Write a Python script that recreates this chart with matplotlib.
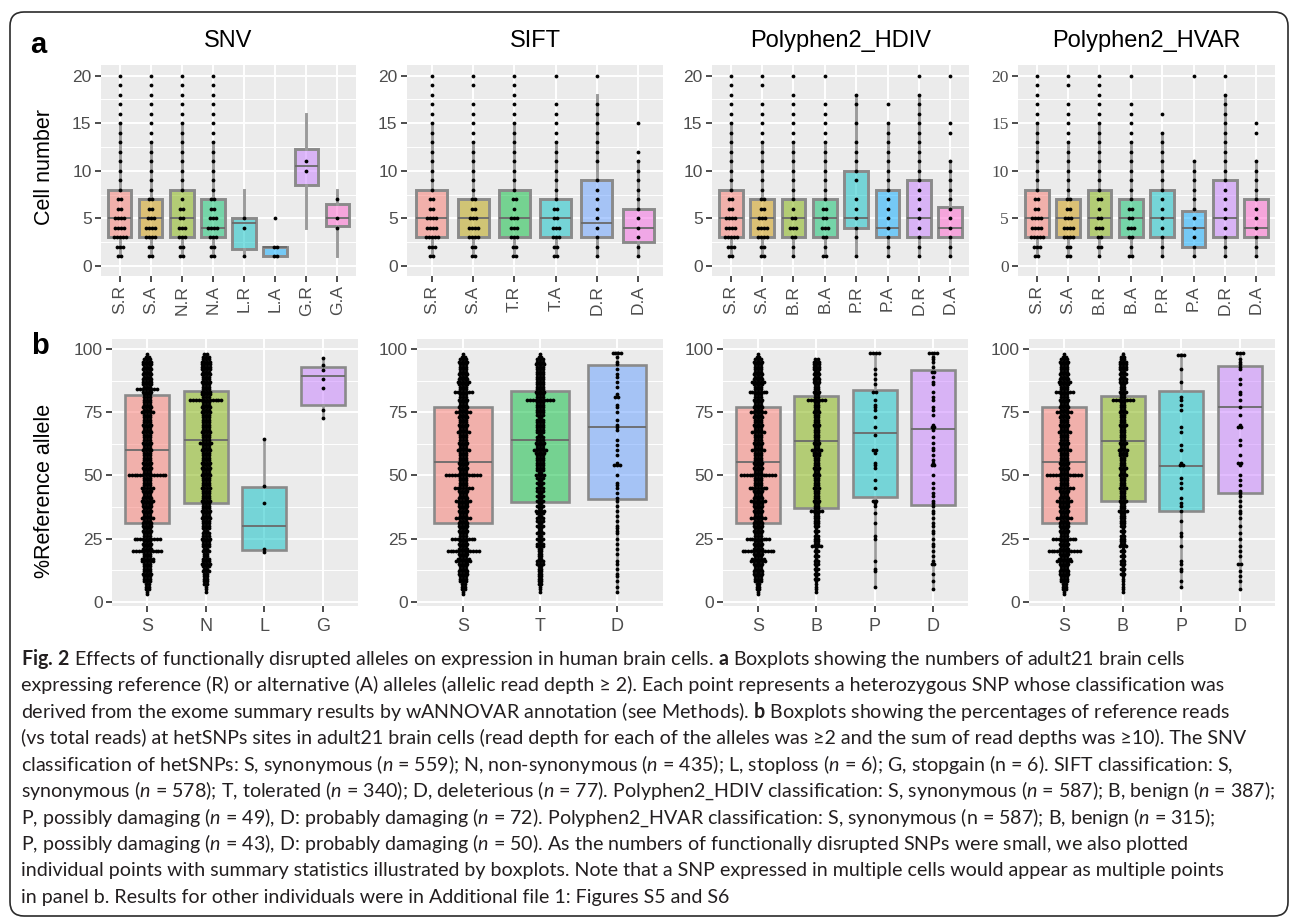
import numpy as np
import matplotlib
matplotlib.use('Agg')
import matplotlib.pyplot as plt
from matplotlib import font_manager
from matplotlib.colors import to_rgba
from matplotlib.patches import FancyBboxPatch
from matplotlib.ticker import FixedLocator
from collections import Counter

W, H, DPI = 1292, 917, 100

# ggplot hue palettes
pal8 = ['#F8766D', '#CD9600', '#7CAE00', '#00BE67', '#00BFC4', '#00A9FF', '#C77CFF', '#FF61CC']
pal6 = ['#F8766D', '#B79F00', '#00BA38', '#00BFC4', '#619CFF', '#F564E3']
pal4 = ['#F8766D', '#7CAE00', '#00BFC4', '#C77CFF']
pal3 = ['#F8766D', '#00BA38', '#619CFF']

# ---------------- panel a: cell numbers ----------------
# box stats: (q1, median, q3, whisker low, whisker high)
# dot counts: index = cell number 0..20
snv_a_labels = ['S.R', 'S.A', 'N.R', 'N.A', 'L.R', 'L.A', 'G.R', 'G.A']
snv_a_stats = [(3, 5, 8, 1, 15), (3, 5, 7, 1, 13), (3, 5, 8, 1, 15), (3, 4, 7, 1, 13),
               (1.75, 4.5, 5, 1, 8), (1, 2, 2, 1, 2), (8.5, 10.5, 12.25, 4, 16), (4.25, 5, 6.5, 1, 8)]
snv_a_counts = [
    [0, 2, 3, 5, 4, 4, 2, 2, 1, 1, 1, 1, 1, 1, 1, 1, 1, 1, 1, 1, 1],
    [0, 2, 2, 4, 4, 3, 2, 2, 1, 1, 1, 1, 1, 1, 1, 1, 1, 1, 1, 1, 1],
    [0, 2, 2, 3, 3, 2, 2, 1, 1, 1, 1, 1, 1, 1, 1, 1, 1, 1, 1, 1, 1],
    [0, 2, 2, 3, 4, 3, 2, 2, 1, 1, 1, 1, 1, 1, 1, 1, 1, 1, 1, 1, 1],
    [0, 1, 0, 0, 1, 1, 0, 0, 0, 0, 0, 0, 0, 0, 0, 0, 0, 0, 0, 0, 0],
    [0, 2, 2, 0, 0, 1, 0, 0, 0, 0, 0, 0, 0, 0, 0, 0, 0, 0, 0, 0, 0],
    [0, 0, 0, 0, 0, 0, 0, 0, 0, 0, 1, 1, 0, 0, 0, 0, 0, 0, 0, 0, 0],
    [0, 0, 0, 0, 1, 1, 0, 1, 0, 0, 0, 0, 0, 0, 0, 0, 0, 0, 0, 0, 0],
]

sift_a_labels = ['S.R', 'S.A', 'T.R', 'T.A', 'D.R', 'D.A']
sift_a_stats = [(3, 5, 8, 1, 15), (3, 5, 7, 1, 13), (3, 5, 8, 1, 15), (3, 5, 7, 1, 13),
                (3, 4.5, 9, 1, 18), (2.5, 4, 6, 1, 11)]
sift_a_counts = [
    [0, 2, 3, 5, 4, 4, 2, 2, 1, 1, 1, 1, 1, 1, 1, 1, 1, 1, 1, 1, 1],
    [0, 2, 2, 4, 4, 3, 2, 2, 1, 1, 1, 1, 1, 1, 1, 1, 1, 1, 0, 1, 1],
    [0, 2, 2, 3, 3, 3, 1, 2, 1, 1, 1, 1, 1, 1, 1, 1, 1, 1, 1, 1, 1],
    [0, 2, 2, 3, 3, 2, 2, 1, 1, 1, 1, 1, 1, 1, 1, 1, 1, 1, 0, 0, 1],
    [0, 1, 1, 1, 1, 1, 1, 1, 1, 1, 0, 1, 1, 1, 1, 1, 1, 1, 0, 0, 1],
    [0, 1, 1, 1, 1, 1, 1, 1, 1, 1, 1, 1, 1, 0, 0, 1, 0, 0, 0, 0, 0],
]

hdiv_a_labels = ['S.R', 'S.A', 'B.R', 'B.A', 'P.R', 'P.A', 'D.R', 'D.A']
hdiv_a_stats = [(3, 5, 8, 1, 15), (3, 5, 7, 1, 13), (3, 5, 7, 1, 13), (3, 5, 7, 1, 13),
                (4, 5, 10, 1, 18), (3, 4, 8, 1, 15), (3, 5, 9, 1, 18), (3, 4, 6.25, 1, 11)]
hdiv_a_counts = [
    [0, 2, 3, 5, 4, 4, 2, 2, 1, 1, 1, 1, 1, 1, 1, 1, 1, 1, 1, 1, 1],
    [0, 2, 2, 4, 4, 3, 2, 2, 1, 1, 1, 1, 1, 1, 1, 1, 1, 1, 0, 1, 1],
    [0, 1, 1, 2, 3, 2, 1, 1, 1, 1, 1, 1, 1, 1, 1, 1, 1, 1, 1, 0, 1],
    [0, 2, 1, 2, 3, 2, 2, 1, 1, 1, 1, 1, 1, 1, 1, 1, 1, 1, 0, 0, 1],
    [0, 1, 0, 1, 1, 1, 1, 1, 0, 1, 1, 1, 1, 1, 0, 1, 0, 1, 1, 0, 0],
    [0, 1, 1, 1, 1, 1, 1, 1, 1, 1, 1, 1, 1, 1, 1, 1, 0, 1, 0, 0, 0],
    [0, 1, 1, 1, 1, 1, 1, 1, 1, 1, 1, 1, 1, 1, 1, 1, 1, 1, 1, 0, 1],
    [0, 1, 1, 1, 1, 1, 1, 1, 1, 1, 1, 1, 0, 0, 1, 1, 0, 0, 0, 0, 1],
]

hvar_a_labels = ['S.R', 'S.A', 'B.R', 'B.A', 'P.R', 'P.A', 'D.R', 'D.A']
hvar_a_stats = [(3, 5, 8, 1, 15), (3, 5, 7, 1, 13), (3, 5, 8, 1, 15), (3, 5, 7, 1, 13),
                (3, 5, 8, 1, 14), (2, 4, 5.75, 1, 11), (3, 5, 9, 1, 18), (3, 4, 7, 1, 11)]
hvar_a_counts = [
    [0, 2, 3, 5, 4, 4, 2, 2, 1, 1, 1, 1, 1, 1, 1, 1, 1, 1, 1, 1, 1],
    [0, 2, 2, 4, 4, 3, 2, 2, 1, 1, 1, 1, 1, 1, 1, 1, 1, 1, 0, 1, 1],
    [0, 1, 2, 2, 3, 2, 1, 2, 1, 1, 1, 1, 1, 1, 1, 1, 1, 1, 1, 1, 1],
    [0, 2, 1, 2, 3, 2, 2, 1, 1, 1, 1, 1, 1, 1, 1, 1, 1, 1, 0, 0, 1],
    [0, 1, 1, 1, 1, 1, 1, 1, 1, 1, 1, 1, 1, 1, 1, 0, 1, 0, 0, 0, 0],
    [0, 1, 1, 1, 1, 1, 1, 1, 1, 1, 1, 1, 0, 0, 0, 0, 0, 0, 0, 0, 1],
    [0, 1, 1, 1, 1, 1, 1, 1, 1, 1, 1, 1, 1, 1, 1, 1, 1, 1, 1, 0, 1],
    [0, 1, 1, 1, 1, 1, 1, 1, 1, 1, 1, 1, 0, 0, 1, 1, 0, 0, 0, 0, 0],
]

# ---------------- panel b: % reference allele ----------------
# dense groups: dot counts per 1% bin, index = percentage 0..99
syn_b_counts = [
    0, 0, 0, 1, 1, 2, 2, 2, 3, 3,
    3, 4, 4, 3, 3, 4, 6, 5, 3, 4,
    12, 4, 3, 4, 3, 9, 3, 3, 4, 3,
    4, 4, 3, 6, 3, 3, 4, 3, 4, 4,
    6, 4, 3, 3, 4, 7, 3, 3, 3, 3,
    13, 3, 3, 4, 3, 4, 3, 3, 3, 3,
    5, 3, 3, 4, 3, 3, 3, 5, 3, 3,
    4, 3, 3, 4, 3, 6, 3, 4, 3, 3,
    4, 3, 3, 7, 3, 3, 4, 5, 4, 3,
    4, 3, 3, 3, 3, 4, 3, 2, 1, 0]
snv_s_counts = [
    0, 0, 0, 1, 1, 2, 2, 2, 3, 3,
    3, 4, 3, 3, 3, 3, 5, 5, 3, 3,
    11, 4, 3, 4, 3, 10, 3, 3, 4, 3,
    4, 4, 3, 5, 3, 3, 4, 3, 4, 4,
    5, 4, 3, 3, 4, 5, 3, 3, 3, 3,
    14, 3, 3, 4, 3, 4, 3, 3, 3, 3,
    4, 3, 3, 4, 3, 3, 3, 4, 3, 3,
    4, 3, 3, 3, 3, 5, 3, 4, 3, 3,
    3, 3, 3, 4, 8, 3, 4, 4, 4, 3,
    4, 3, 4, 3, 4, 4, 3, 2, 1, 0]
snv_n_counts = [
    0, 0, 0, 0, 1, 1, 1, 2, 2, 2,
    2, 2, 3, 2, 3, 4, 3, 3, 2, 2,
    3, 2, 3, 3, 3, 4, 3, 3, 2, 3,
    3, 3, 3, 4, 3, 3, 4, 3, 3, 3,
    4, 3, 3, 3, 3, 4, 3, 3, 3, 3,
    4, 3, 3, 4, 3, 4, 3, 3, 3, 3,
    4, 3, 3, 5, 3, 3, 3, 4, 3, 3,
    3, 3, 3, 3, 3, 4, 3, 4, 3, 3,
    12, 3, 4, 4, 3, 3, 3, 4, 3, 3,
    4, 3, 4, 4, 4, 4, 3, 3, 2, 0]
sift_t_counts = [
    0, 0, 0, 0, 1, 1, 1, 2, 2, 2,
    2, 2, 2, 2, 2, 3, 3, 2, 2, 2,
    2, 2, 3, 3, 2, 3, 2, 3, 2, 2,
    3, 2, 3, 3, 2, 3, 4, 2, 3, 2,
    3, 2, 3, 2, 3, 3, 2, 3, 2, 3,
    4, 2, 3, 3, 3, 3, 3, 3, 3, 4,
    5, 3, 3, 4, 3, 3, 2, 3, 3, 3,
    3, 3, 3, 2, 3, 3, 3, 3, 3, 3,
    10, 3, 3, 4, 3, 3, 3, 3, 3, 3,
    3, 3, 3, 3, 4, 3, 3, 2, 1, 0]
hdiv_b_counts = [
    0, 0, 0, 0, 1, 1, 1, 1, 1, 2,
    1, 2, 1, 2, 1, 2, 2, 1, 2, 1,
    2, 1, 4, 2, 2, 2, 2, 1, 2, 1,
    2, 2, 2, 2, 2, 2, 5, 2, 2, 2,
    3, 2, 2, 2, 2, 3, 2, 2, 2, 2,
    3, 2, 2, 3, 2, 2, 2, 2, 3, 3,
    4, 2, 2, 3, 2, 2, 2, 2, 2, 2,
    3, 2, 2, 2, 2, 3, 2, 2, 2, 2,
    7, 2, 2, 3, 2, 2, 2, 3, 3, 2,
    3, 2, 3, 3, 3, 3, 2, 0, 0, 0]
hvar_b_counts = [
    0, 0, 0, 0, 1, 1, 1, 1, 1, 1,
    1, 2, 1, 2, 1, 2, 2, 1, 2, 1,
    2, 1, 3, 2, 2, 2, 2, 1, 2, 1,
    2, 2, 2, 2, 2, 2, 4, 2, 2, 2,
    3, 2, 2, 2, 2, 3, 2, 2, 2, 2,
    3, 2, 2, 3, 2, 2, 2, 2, 3, 3,
    4, 2, 2, 3, 2, 2, 2, 2, 2, 2,
    3, 2, 2, 2, 2, 3, 2, 2, 2, 2,
    8, 2, 2, 3, 2, 2, 2, 3, 3, 2,
    3, 2, 3, 3, 3, 3, 2, 2, 1, 0]

# sparse groups: individual values
snv_l_points = [19.8, 20.8, 39.2, 45.6, 64.5]
snv_g_points = [72.7, 76, 84.5, 88.1, 91.5, 93.8, 96.4]
sift_d_points = [4, 6, 8, 10, 11, 13, 15, 16, 19, 21, 23, 25, 27, 28, 29, 30, 32, 34, 36, 38,
                 40, 41, 43, 45, 46, 47, 50, 54, 54, 54, 55, 58, 60, 62, 64, 68, 69, 70, 72,
                 75, 77, 78, 81, 81, 82, 85, 87, 89, 90, 92, 94, 95, 97, 98.5, 98.5, 98.5, 98.5]
hdiv_p_points = [6, 12, 13, 16, 25, 26, 31, 35, 38, 39, 40, 40, 45, 48, 53, 54, 55, 59, 60, 60,
                 66, 69, 73, 76, 77, 78, 80, 83, 83, 86, 88, 90, 92, 98.5, 98.5, 98.5, 98.5]
hdiv_d_points = [5, 8, 11, 15, 15, 16, 18, 20, 22, 23, 25, 27, 28, 30, 31, 33, 35, 36, 38, 39,
                 40, 42, 43, 45, 47, 50, 54, 54, 55, 56, 58, 60, 61, 63, 65, 68, 69, 69, 70,
                 74, 76, 77, 80, 81, 83, 86, 87, 89, 91, 91, 93, 95, 96, 97, 98.5, 98.5, 98.5, 98.5]
hvar_p_points = [6, 8, 12, 13, 15, 16, 22, 26, 27, 32, 36, 38, 39, 41, 45, 47, 49, 54, 54, 55,
                 60, 62, 67, 69, 76, 78, 80, 81, 87, 92, 97.5, 97.5, 97.5]
hvar_d_points = [5, 8, 10, 12, 15, 15, 18, 20, 22, 25, 27, 30, 33, 35, 36, 38, 40, 42, 43, 44,
                 46, 48, 50, 54, 55, 55, 58, 62, 64, 69, 69, 70, 74, 77, 80, 82, 83, 86, 88,
                 92, 93, 94, 95, 96, 98.5, 98.5, 98.5]

snv_b_labels = ['S', 'N', 'L', 'G']
snv_b_stats = [(31.3, 60, 81.9, 3, 98), (39.2, 63.8, 83.5, 4, 98),
               (20.5, 30, 45.2, 20, 64.5), (77.9, 89.5, 92.7, 72.7, 96.4)]
sift_b_labels = ['S', 'T', 'D']
sift_b_stats = [(31, 55.2, 77, 3, 98), (39.6, 63.8, 83.5, 4, 98), (40.7, 69.2, 93.8, 4, 99)]
hdiv_b_labels = ['S', 'B', 'P', 'D']
hdiv_b_stats = [(31, 55.2, 77, 3, 98), (37, 63.7, 81.6, 4, 96),
                (41.6, 66.6, 83.9, 6, 98.5), (38.3, 68.4, 91.8, 5, 98.5)]
hvar_b_labels = ['S', 'B', 'P', 'D']
hvar_b_stats = [(31, 55.2, 77, 3, 98), (40, 63.7, 81.6, 4, 98.5),
                (35.7, 53.8, 83.2, 6, 98), (43.2, 76.9, 93.1, 5, 98.5)]

titles = ['SNV', 'SIFT', 'Polyphen2_HDIV', 'Polyphen2_HVAR']

caption_lines = [
    r"$\mathbf{Fig.\,2}$ Effects of functionally disrupted alleles on expression in human brain cells. $\mathbf{a}$ Boxplots showing the numbers of adult21 brain cells",
    "expressing reference (R) or alternative (A) alleles (allelic read depth \u2265 2). Each point represents a heterozygous SNP whose classification was",
    r"derived from the exome summary results by wANNOVAR annotation (see Methods). $\mathbf{b}$ Boxplots showing the percentages of reference reads",
    "(vs total reads) at hetSNPs sites in adult21 brain cells (read depth for each of the alleles was \u22652 and the sum of read depths was \u226510). The SNV",
    r"classification of hetSNPs: S, synonymous ($\mathit{n}$ = 559); N, non-synonymous ($\mathit{n}$ = 435); L, stoploss ($\mathit{n}$ = 6); G, stopgain (n = 6). SIFT classification: S,",
    r"synonymous ($\mathit{n}$ = 578); T, tolerated ($\mathit{n}$ = 340); D, deleterious ($\mathit{n}$ = 77). Polyphen2_HDIV classification: S, synonymous ($\mathit{n}$ = 587); B, benign ($\mathit{n}$ = 387);",
    r"P, possibly damaging ($\mathit{n}$ = 49), D: probably damaging ($\mathit{n}$ = 72). Polyphen2_HVAR classification: S, synonymous (n = 587); B, benign ($\mathit{n}$ = 315);",
    r"P, possibly damaging ($\mathit{n}$ = 43), D: probably damaging ($\mathit{n}$ = 50). As the numbers of functionally disrupted SNPs were small, we also plotted",
    "individual points with summary statistics illustrated by boxplots. Note that a SNP expressed in multiple cells would appear as multiple points",
    "in panel b. Results for other individuals were in Additional file 1: Figures S5 and S6",
]


def expand(counts):
    return list(np.repeat(np.arange(len(counts)), counts))


snv_b_points = [expand(snv_s_counts), expand(snv_n_counts), snv_l_points, snv_g_points]
sift_b_points = [expand(syn_b_counts), expand(sift_t_counts), sift_d_points]
hdiv_b_points = [expand(syn_b_counts), expand(hdiv_b_counts), hdiv_p_points, hdiv_d_points]
hvar_b_points = [expand(syn_b_counts), expand(hvar_b_counts), hvar_p_points, hvar_d_points]

# ---------------- fonts ----------------
names = {f.name for f in font_manager.fontManager.ttflist}
sans = 'Liberation Sans' if 'Liberation Sans' in names else 'DejaVu Sans'
cap_font = 'Liberation Sans Narrow' if 'Liberation Sans Narrow' in names else (
    'Lato' if 'Lato' in names else sans)
plt.rcParams['font.family'] = [sans, 'DejaVu Sans']
plt.rcParams['mathtext.fontset'] = 'custom'
plt.rcParams['mathtext.rm'] = cap_font
plt.rcParams['mathtext.it'] = cap_font + ':italic'
plt.rcParams['mathtext.bf'] = cap_font + ':bold'

fig = plt.figure(figsize=(W / DPI, H / DPI), dpi=DPI)


def px_axes(l, r, t, b):
    return fig.add_axes([l / W, 1 - b / H, (r - l) / W, (b - t) / H])


def draw_panel(ax, labels, stats, points, colors, ylim, yticks, yminor,
               width_px, dot_px, dot_s, box_lw, rot):
    n = len(labels)
    xs = np.arange(1, n + 1)
    ax.set_facecolor('#EBEBEB')
    ax.set_xlim(0.4, n + 0.6)
    ax.set_ylim(*ylim)
    ax.set_axisbelow(True)
    ax.yaxis.set_major_locator(FixedLocator(yticks))
    ax.yaxis.set_minor_locator(FixedLocator(yminor))
    ax.grid(which='major', color='white', lw=1.4)
    ax.grid(which='minor', axis='y', color='white', lw=0.7)
    for s in ax.spines.values():
        s.set_visible(False)

    bstats = [dict(q1=s[0], med=s[1], q3=s[2], whislo=s[3], whishi=s[4], fliers=[]) for s in stats]
    res = ax.bxp(bstats, positions=xs, widths=0.75, patch_artist=True, showcaps=False,
                 showfliers=False, manage_ticks=False, zorder=2,
                 boxprops=dict(edgecolor='#8a8a8a', linewidth=box_lw),
                 whiskerprops=dict(color='#9a9a9a', linewidth=box_lw),
                 medianprops=dict(color='#6a6a6a', linewidth=1.3))
    for patch, c in zip(res['boxes'], colors):
        patch.set_facecolor(to_rgba(c, 0.5))

    # centred dot stacks
    d = dot_px * (n + 0.2) / width_px
    px, py = [], []
    for x, vals in zip(xs, points):
        for v, c in Counter(vals).items():
            offs = (np.arange(c) - (c - 1) / 2) * d
            px.extend(x + offs)
            py.extend([v] * c)
    ax.scatter(px, py, s=dot_s, c='black', linewidths=0, zorder=3)

    ax.set_xticks(xs)
    ax.set_xticklabels(labels, rotation=rot)
    ax.tick_params(which='major', length=4.3, width=1.4, color='#4D4D4D',
                   labelcolor='#4D4D4D', labelsize=12.5, pad=2.5)
    ax.tick_params(which='minor', length=0)


# panel a
a_px = [(101, 356), (407, 663), (712, 969), (1018, 1275)]
a_sets = [(snv_a_labels, snv_a_stats, snv_a_counts, pal8),
          (sift_a_labels, sift_a_stats, sift_a_counts, pal6),
          (hdiv_a_labels, hdiv_a_stats, hdiv_a_counts, pal8),
          (hvar_a_labels, hvar_a_stats, hvar_a_counts, pal8)]
for i, ((l, r), (labels, stats, counts, pal)) in enumerate(zip(a_px, a_sets)):
    ax = px_axes(l, r, 65, 276)
    pts = [expand(c) for c in counts]
    draw_panel(ax, labels, stats, pts, pal, (-1.05, 21.12), [0, 5, 10, 15, 20],
               [2.5, 7.5, 12.5, 17.5], r - l, 3.0, 7.5, 2.1, 90)
    if i == 3:
        for t in ax.get_yticklabels():
            t.set_family('Liberation Serif')
    fig.text((l + r) / 2 / W, 1 - 47 / H, titles[i], fontsize=17, ha='center',
             va='baseline', color='black', family=sans)

# panel b
b_px = [(112, 358), (417, 663), (723, 968), (1029, 1275)]
b_sets = [(snv_b_labels, snv_b_stats, snv_b_points, pal4),
          (sift_b_labels, sift_b_stats, sift_b_points, pal3),
          (hdiv_b_labels, hdiv_b_stats, hdiv_b_points, pal4),
          (hvar_b_labels, hvar_b_stats, hvar_b_points, pal4)]
for (l, r), (labels, stats, pts, pal) in zip(b_px, b_sets):
    ax = px_axes(l, r, 339, 606)
    draw_panel(ax, labels, stats, pts, pal, (-1.7, 103.96), [0, 25, 50, 75, 100],
               [12.5, 37.5, 62.5, 87.5], r - l, 2.8, 7.5, 1.9, 0)
    ax.tick_params(axis='x', labelsize=13, pad=4)

# panel letters and axis titles
fig.text(30 / W, 1 - 53 / H, 'a', fontsize=21, fontweight='bold', family=sans)
fig.text(31 / W, 1 - 354 / H, 'b', fontsize=21, fontweight='bold', family=sans)
fig.text(45 / W, 1 - 167 / H, 'Cell number', fontsize=15.5, rotation=90, ha='center',
         va='center', family=sans)
fig.text(45 / W, 1 - 491 / H, '%Reference allele', fontsize=15.5, rotation=90, ha='center',
         va='center', family=sans)

# rounded frame
frame = FancyBboxPatch((10 / DPI, (H - 916) / DPI), 1278 / DPI, 904 / DPI,
                       boxstyle='round,pad=0,rounding_size=0.14', transform=fig.dpi_scale_trans,
                       facecolor='none', edgecolor='#2b2b2b', linewidth=1.2)
fig.patches.append(frame)

# caption
caps = []
for i, line in enumerate(caption_lines):
    caps.append(fig.text(21 / W, 1 - (665 + i * 26.4) / H, line, fontsize=12, family=cap_font,
                         color='#231F20', ha='left', va='baseline'))
fig.canvas.draw()
rend = fig.canvas.get_renderer()
widest = max(t.get_window_extent(rend).width for t in caps)
for t in caps:
    t.set_fontsize(12 * 1252 / widest)

fig.savefig('out.png', dpi=DPI)
